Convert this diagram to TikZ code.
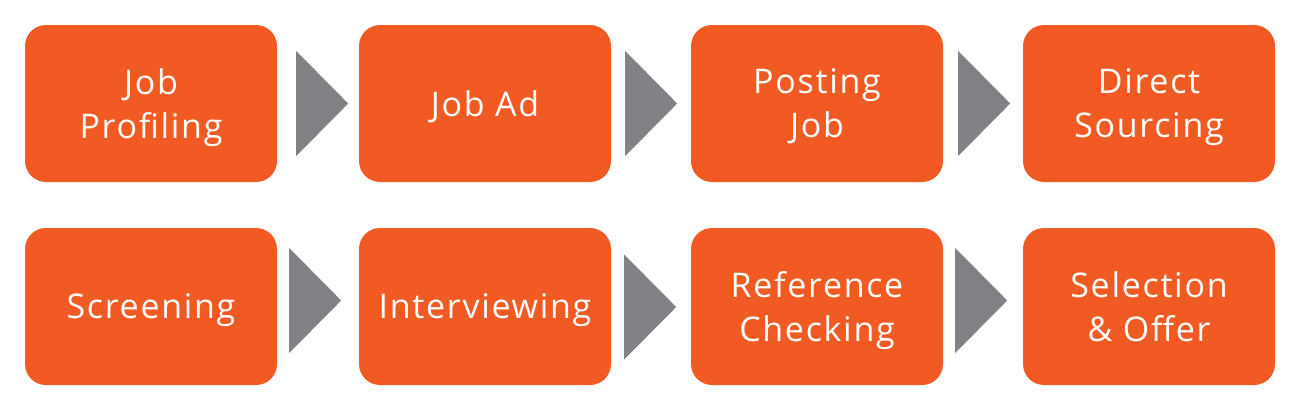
\documentclass[tikz,border=0pt]{standalone}
\usepackage{fontspec}
\setmainfont{Open Sans}[LetterSpace=5]
\usepackage{tikz}
\usetikzlibrary{shapes.geometric}
\definecolor{steporange}{RGB}{241,90,34}
\definecolor{arrowgray}{RGB}{128,130,133}

\begin{document}
\begin{tikzpicture}[x=1pt,y=-1pt,
    box/.style={fill=steporange, rounded corners=21pt, minimum width=252pt, minimum height=157pt,
        text=white, align=center, text depth=0pt, font=\fontsize{34}{44}\selectfont},
    arr/.style={fill=arrowgray, isosceles triangle, isosceles triangle stretches, shape border rotate=0,
        minimum width=105pt, minimum height=52pt, inner sep=0pt, anchor=lower side}]
    \useasboundingbox (0,0) rectangle (1300,410);

    % first row
    \node[box] at (151,103.5) (jobprof) {Job\\Profiling};
    \node[box] at (485,103.5) (jobad) {Job Ad};
    \node[box] at (817,103.5) (posting) {Posting\\Job};
    \node[box] at (1149,103.5) (sourcing) {Direct\\Sourcing};
    \node[arr] at (296,103.5) (a1) {};
    \node[arr] at (625,103.5) (a2) {};
    \node[arr] at (958,103.5) (a3) {};

    % second row
    \node[box] at (151,306.5) (screening) {Screening};
    \node[box] at (485,306.5) (interview) {Interviewing};
    \node[box] at (817,306.5) (refcheck) {Reference\\Checking};
    \node[box] at (1149,306.5) (offer) {Selection\\\& Offer};
    \node[arr] at (289,300.5) (a4) {};
    \node[arr] at (624,307) (a5) {};
    \node[arr] at (955,300.5) (a6) {};
\end{tikzpicture}
\end{document}
